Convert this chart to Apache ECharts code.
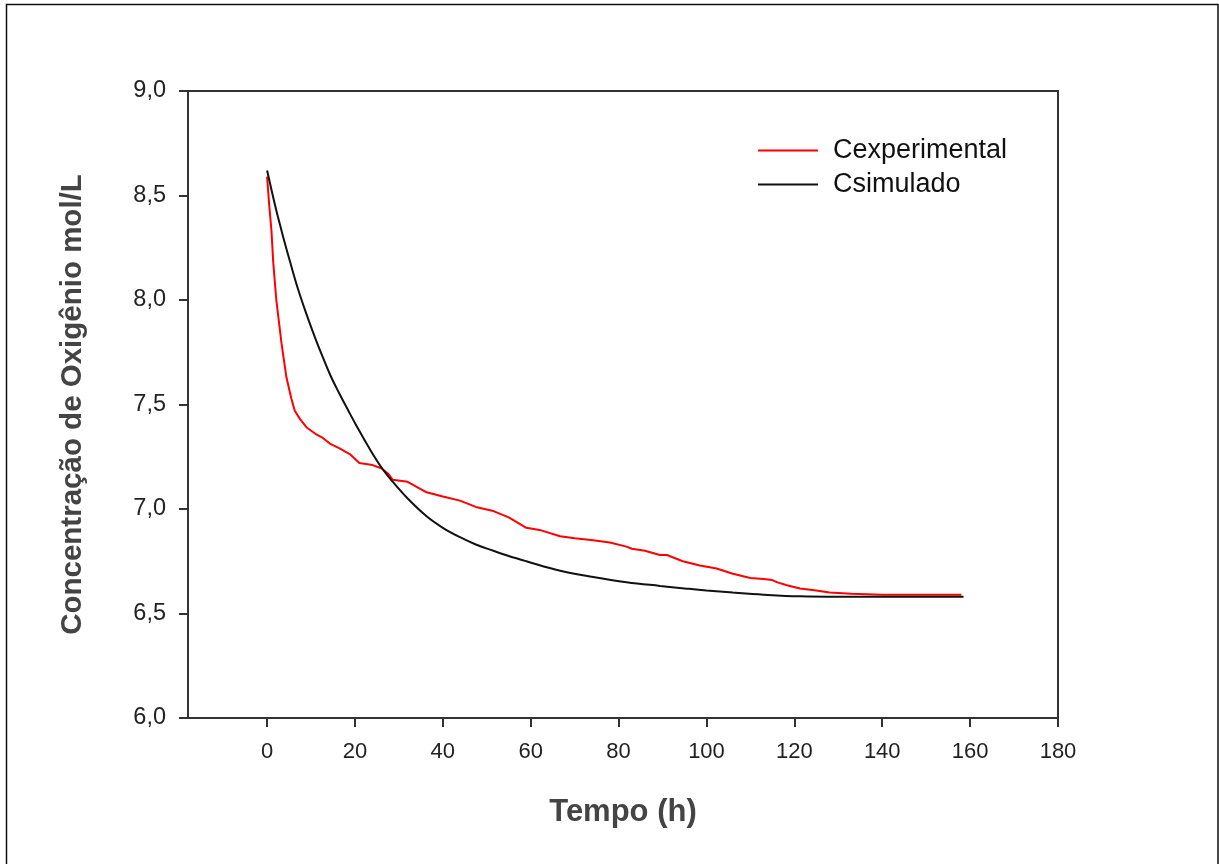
<!DOCTYPE html>
<html>
<head>
<meta charset="utf-8">
<script src="https://cdn.jsdelivr.net/npm/echarts@6/dist/echarts.min.js"></script>
<style>
html,body{margin:0;padding:0;background:#fff;}
#c{width:1219px;height:864px;}
</style>
</head>
<body>
<div id="c"></div>
<script>
// ---- data ----
const tExp = [0, 0.5, 1, 1.4, 2.1, 3.3, 4.4, 5.5, 6.3, 7.5, 9, 11, 12.7, 14.5, 16.5, 19, 21, 24, 26, 27.5, 28.6, 32, 36.3, 40, 43.9, 47.5, 51.5, 55, 59, 62, 66.7, 70, 74.2, 78, 81.8, 83, 86, 89.4, 91, 94.6, 98.5, 102.3, 106, 110, 113, 115, 116, 118.3, 121.3, 125, 128, 133, 140, 150, 158];
const cExp = [8.59, 8.45, 8.33, 8.18, 8.0, 7.79, 7.63, 7.53, 7.47, 7.43, 7.39, 7.36, 7.34, 7.31, 7.29, 7.26, 7.22, 7.21, 7.195, 7.17, 7.14, 7.13, 7.08, 7.06, 7.04, 7.01, 6.99, 6.96, 6.91, 6.90, 6.87, 6.86, 6.85, 6.84, 6.82, 6.81, 6.80, 6.78, 6.78, 6.75, 6.73, 6.715, 6.69, 6.67, 6.665, 6.66, 6.65, 6.635, 6.62, 6.61, 6.60, 6.595, 6.59, 6.59, 6.59];
const tSim = [0, 0.7, 1.4, 2.2, 3, 4, 5.2, 7, 9, 11, 12.7, 14.5, 16.5, 18.5, 20.3, 23, 26, 28.6, 32, 36.3, 40, 43.9, 47.5, 51.5, 55, 59, 66.7, 74.2, 81.8, 89.4, 95, 100, 106, 113, 121.3, 130, 140, 150, 158.5];
const cSim = [8.62, 8.555, 8.49, 8.42, 8.355, 8.275, 8.185, 8.055, 7.93, 7.815, 7.725, 7.635, 7.55, 7.47, 7.40, 7.30, 7.20, 7.13, 7.05, 6.965, 6.91, 6.865, 6.83, 6.80, 6.775, 6.75, 6.705, 6.675, 6.65, 6.632, 6.62, 6.61, 6.60, 6.59, 6.582, 6.58, 6.58, 6.58, 6.58];
const xTicks = [0, 20, 40, 60, 80, 100, 120, 140, 160, 180];
const seriesNames = ['Cexperimental', 'Csimulado'];
const xTitle = 'Tempo (h)';
const yTitle = 'Concentração de Oxigênio mol/L';

const zip = (a, b) => a.map((v, i) => [v, b[i]]);
const FONT = '"Liberation Sans", Arial, sans-serif';
const AX = '#333';

const chart = echarts.init(document.getElementById('c'), null, {renderer: 'canvas'});
chart.setOption({
  animation: false,
  backgroundColor: '#fff',
  color: ['#ff0000', '#111111'],
  graphic: [{
    type: 'rect', silent: true, z: 0,
    shape: {x: 6.5, y: 4.5, width: 1211.5, height: 880},
    style: {fill: null, stroke: '#111', lineWidth: 1.5}
  }],
  grid: {left: 188, top: 91, right: 161, bottom: 146, show: true, borderColor: AX, borderWidth: 2, backgroundColor: 'transparent'},
  legend: {
    orient: 'vertical', left: 758, top: 137, padding: 0, itemGap: 7,
    itemWidth: 60, itemHeight: 2, icon: 'rect',
    textStyle: {fontFamily: FONT, fontSize: 27, color: '#111', padding: [0, 0, 0, 10]},
    data: seriesNames
  },
  xAxis: {
    type: 'value', min: -18, max: 180,
    name: xTitle, nameLocation: 'middle', nameGap: 79,
    nameTextStyle: {fontFamily: FONT, fontSize: 31, fontWeight: 'bold', color: '#444'},
    axisLine: {show: true, onZero: false, lineStyle: {color: AX, width: 2}},
    axisTick: {show: true, inside: false, length: 9, lineStyle: {color: AX, width: 2}, customValues: xTicks},
    axisLabel: {fontFamily: FONT, fontSize: 22, color: '#222', margin: 23, customValues: xTicks},
    splitLine: {show: false}
  },
  yAxis: {
    type: 'value', min: 6, max: 9, interval: 0.5,
    name: yTitle, nameLocation: 'middle', nameGap: 100,
    nameTextStyle: {fontFamily: FONT, fontSize: 29.5, fontWeight: 'bold', color: '#444'},
    axisLine: {show: true, onZero: false, lineStyle: {color: AX, width: 2}},
    axisTick: {show: true, inside: false, length: 9, lineStyle: {color: AX, width: 2}},
    axisLabel: {fontFamily: FONT, fontSize: 23.5, color: '#222', margin: 22,
      formatter: v => v.toFixed(1).replace('.', ',')},
    splitLine: {show: false}
  },
  series: [
    {name: seriesNames[0], type: 'line', data: zip(tExp, cExp), symbol: 'none', smooth: false,
      lineStyle: {width: 2, color: '#ff0000'}, z: 3},
    {name: seriesNames[1], type: 'line', data: zip(tSim, cSim), symbol: 'none', smooth: 0.4,
      lineStyle: {width: 2, color: '#111111'}, z: 4}
  ]
});
</script>
</body>
</html>
